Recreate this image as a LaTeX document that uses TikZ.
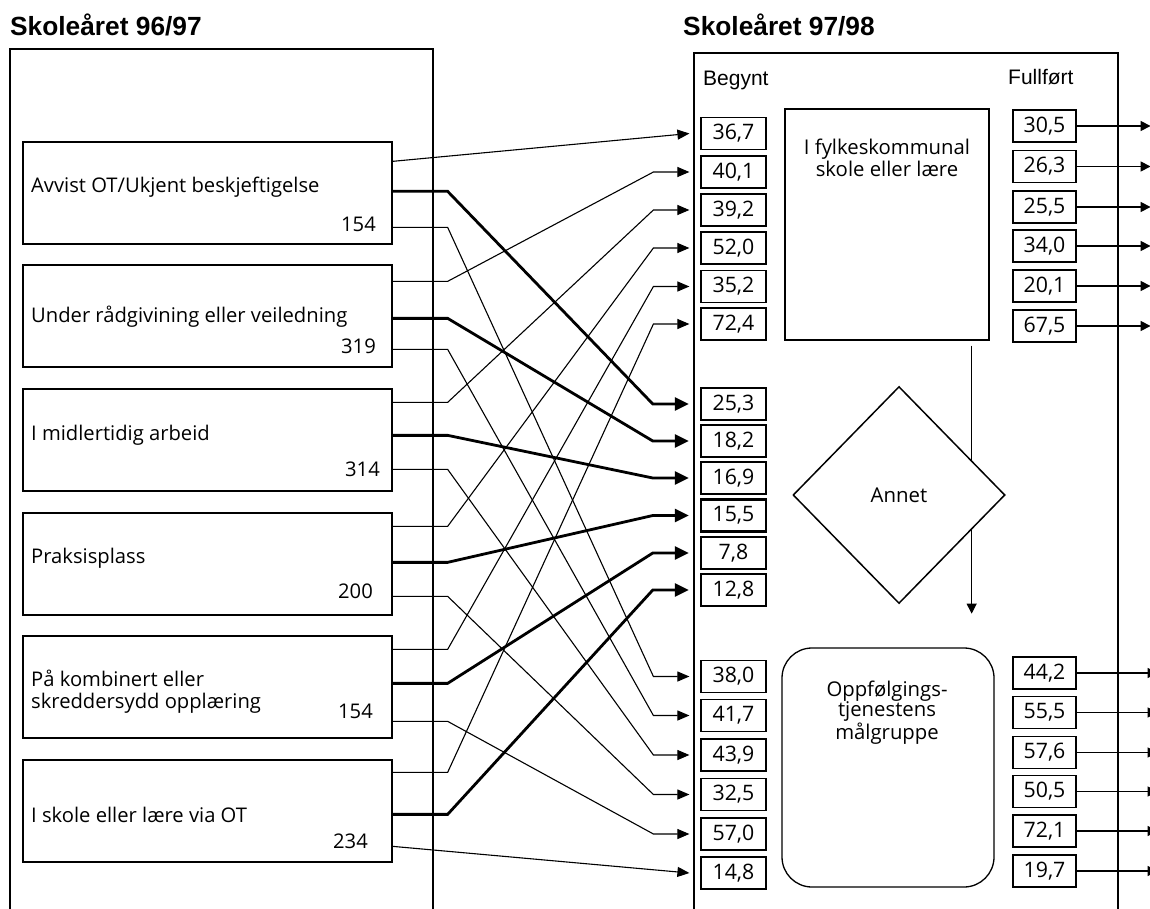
\documentclass[tikz,border=0pt]{standalone}
\usepackage{fontspec}
\setmainfont{Open Sans}
\newfontfamily\hdrfont{Liberation Sans}
\usetikzlibrary{arrows.meta,shapes.geometric,calc}
\begin{document}
\begin{tikzpicture}[x=1pt,y=-1pt,
  font=\fontsize{20.2}{21.5}\selectfont,
  srcbox/.style={draw,line width=1.3pt,minimum width=369pt,minimum height=102pt,inner sep=0pt},
  numbox/.style={draw,line width=1.2pt,minimum width=65pt,minimum height=32pt,inner sep=0pt,font=\fontsize{21.3}{21}\selectfont},
  numthick/.style={numbox,line width=2.4pt},
  outbox/.style={numbox,minimum width=63pt},
  thinln/.style={line width=1.1pt,-{Triangle[length=12pt,width=10pt]}},
  thickln/.style={line width=2.8pt,-{Triangle[length=14pt,width=13pt]}},
  outln/.style={line width=1.1pt,-{Triangle[length=10pt,width=10pt]}},
  frame/.style={line width=1.3pt},
  hdr/.style={anchor=base west,font=\hdrfont\bfseries\fontsize{26.3}{26}\selectfont},
  col/.style={anchor=base west,font=\hdrfont\fontsize{21}{21}\selectfont},
  lbl/.style={anchor=base west,inner sep=0pt},
  cnt/.style={anchor=base east,inner sep=0pt}
]
\useasboundingbox (0,0) rectangle (1150,909);

% headers
\node[hdr,inner sep=0pt] (H1) at (10,36) {Skoleåret 96/97};
\node[hdr,inner sep=0pt] (H2) at (683,36) {Skoleåret 97/98};

% big frames (open at the bottom)
\draw[frame] (10,915) -- (10,49) -- (433,49) -- (433,915);
\draw[frame] (694,915) -- (694,53) -- (1118,53) -- (1118,915);

\node[col,inner sep=0pt] (CB) at (703,86) {Begynt};
\node[col,inner sep=0pt] (CF) at (1008,85) {Fullført};

% source boxes
\node[srcbox] (L1) at (207.5,193) {};
\node[srcbox] (L2) at (207.5,316) {};
\node[srcbox] (L3) at (207.5,440) {};
\node[srcbox] (L4) at (207.5,564) {};
\node[srcbox] (L5) at (207.5,687) {};
\node[srcbox] (L6) at (207.5,811) {};

\node[lbl] (T1) at (31,193) {Avvist OT/Ukjent beskjeftigelse};
\node[cnt] (N1) at (376,232) {154};
\node[lbl] (T2) at (31,322) {Under rådgivining eller veiledning};
\node[cnt] (N2) at (376,353) {319};
\node[lbl] (T3) at (31,440) {I midlertidig arbeid};
\node[cnt] (N3) at (380,476) {314};
\node[lbl] (T4) at (31,563) {Praksisplass};
\node[cnt] (N4) at (373,598) {200};
\node[lbl,align=left] (T5) at (31,708) {På kombinert eller\\skreddersydd opplæring};
\node[cnt] (N5) at (373,718) {154};
\node[lbl] (T6) at (31,822) {I skole eller lære via OT};
\node[cnt] (N6) at (368,848) {234};

% central shapes
\node[draw,line width=1.3pt,minimum width=204pt,minimum height=231pt] (FK) at (887,224.5) {};
\node[anchor=base,align=center,inner sep=0pt,font=\fontsize{20.3}{22}\selectfont] (FKT) at (887,177) {I fylkeskommunal\\skole eller lære};
\draw[line width=1.1pt,-{Triangle[length=10pt,width=10pt]}] ([xshift=-18pt,yshift=-5pt]FK.south east) -- ++(0,268) coordinate (VA);
\node[draw,diamond,fill=white,line width=1.5pt,minimum width=212pt,minimum height=217pt,inner sep=0pt,font=\fontsize{20.4}{21}\selectfont] (AN) at (899,495) {Annet};
\node[draw,line width=1.3pt,rounded corners=30pt,minimum width=212pt,minimum height=239pt] (OP) at (888,767.5) {};
\node[anchor=base,align=center,inner sep=0pt,font=\fontsize{20.3}{20.5}\selectfont] (OPT) at (887,739) {Oppfølgings-\\tjenestens\\målgruppe};

% begynt boxes
\node[numbox] (B1) at (733.5,133.5) {36,7};
\node[numbox] (B2) at (733.5,172) {40,1};
\node[numbox] (B3) at (733.5,210) {39,2};
\node[numbox] (B4) at (733.5,248) {52,0};
\node[numbox] (B5) at (733.5,286.5) {35,2};
\node[numbox] (B6) at (733.5,324) {72,4};
\node[numthick] (B7) at (733.5,404) {25,3};
\node[numthick] (B8) at (733.5,441) {18,2};
\node[numthick] (B9) at (733.5,478) {16,9};
\node[numthick] (B10) at (733.5,515.5) {15,5};
\node[numthick] (B11) at (733.5,553) {7,8};
\node[numthick] (B12) at (733.5,590) {12,8};
\node[numbox] (B13) at (733.5,676.5) {38,0};
\node[numbox] (B14) at (733.5,715.5) {41,7};
\node[numbox] (B15) at (733.5,755) {43,9};
\node[numbox] (B16) at (733.5,794.5) {32,5};
\node[numbox] (B17) at (733.5,834) {57,0};
\node[numbox] (B18) at (733.5,873) {14,8};

% fullfort boxes
\node[outbox] (F1) at (1044.5,126) {30,5};
\node[outbox] (F2) at (1044.5,166.5) {26,3};
\node[outbox] (F3) at (1044.5,207) {25,5};
\node[outbox] (F4) at (1044.5,246) {34,0};
\node[outbox] (F5) at (1044.5,286) {20,1};
\node[outbox] (F6) at (1044.5,326) {67,5};
\node[outbox] (F7) at (1044.5,673) {44,2};
\node[outbox] (F8) at (1044.5,712.5) {55,5};
\node[outbox] (F9) at (1044.5,752.5) {57,6};
\node[outbox] (F10) at (1044.5,791.5) {50,5};
\node[outbox] (F11) at (1044.5,831) {72,1};
\node[outbox] (F12) at (1044.5,871) {19,7};

\foreach \f in {F1,F2,F3,F4,F5,F6}{
  \draw[outln] (\f.east) -- ([xshift=74pt]\f.east);
}
\foreach \f in {F7,F8,F9,F10,F11,F12}{
  \draw[outln] (\f.east) -- ([xshift=81pt]\f.east);
}

% connectors from source boxes
\newcommand{\kink}[4]{% style, source, offset, target
  \draw[#1] ([yshift=-#3pt]#2.north east) -- ++(55,0) -- ([xshift=-47pt]#4.west) -- ([xshift=-11pt]#4.west);}

\draw[thinln] ([yshift=-20pt]L1.north east) -- ([xshift=-11pt]B1.west);
\kink{thickln}{L1}{50}{B7}
\kink{thinln}{L1}{86}{B13}

\kink{thinln}{L2}{17}{B2}
\kink{thickln}{L2}{54}{B8}
\kink{thinln}{L2}{85}{B14}

\kink{thinln}{L3}{14}{B3}
\kink{thickln}{L3}{47}{B9}
\kink{thinln}{L3}{81}{B15}

\kink{thinln}{L4}{14}{B4}
\kink{thickln}{L4}{50}{B10}
\kink{thinln}{L4}{84}{B16}

\kink{thinln}{L5}{14}{B5}
\kink{thickln}{L5}{48}{B11}
\kink{thinln}{L5}{86}{B17}

\kink{thinln}{L6}{13}{B6}
\kink{thickln}{L6}{55}{B12}
\draw[thinln] ([yshift=-87pt]L6.north east) -- ([xshift=-11pt]B18.west);
\end{tikzpicture}
\end{document}
